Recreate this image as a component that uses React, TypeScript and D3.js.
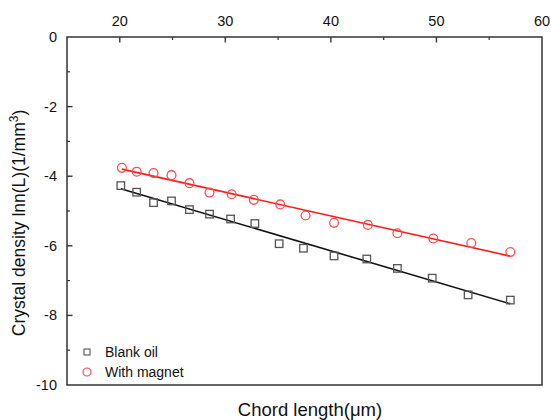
import React from "react";
import * as d3 from "d3";

const blankX = [20.1, 21.6, 23.2, 24.9, 26.6, 28.5, 30.5, 32.8, 35.1, 37.4, 40.3, 43.4, 46.3, 49.6, 53.0, 57.0];
const blankY = [-4.27, -4.46, -4.76, -4.71, -4.96, -5.09, -5.23, -5.36, -5.94, -6.07, -6.29, -6.38, -6.65, -6.93, -7.41, -7.56];
const magnetX = [20.2, 21.6, 23.2, 24.9, 26.6, 28.5, 30.6, 32.7, 35.2, 37.6, 40.3, 43.5, 46.3, 49.7, 53.3, 57.0];
const magnetY = [-3.76, -3.87, -3.91, -3.97, -4.2, -4.47, -4.52, -4.68, -4.81, -5.13, -5.34, -5.4, -5.64, -5.79, -5.92, -6.18];

const xMajor = [20, 30, 40, 50, 60];
const xMinor = [25, 35, 45, 55];
const yMajor = [0, -2, -4, -6, -8, -10];
const yMinor = [-1, -3, -5, -7, -9];

const seriesNames = ["Blank oil", "With magnet"];
const xTitle = "Chord length(μm)";

const W = 551, H = 420;
const left = 67, right = 542, top = 37, bottom = 385;
const FONT = "Liberation Sans, Arial, sans-serif";

function fit(xs: number[], ys: number[]) {
  const mx = d3.mean(xs)!, my = d3.mean(ys)!;
  let sxy = 0, sxx = 0;
  xs.forEach((x, i) => { sxy += (x - mx) * (ys[i] - my); sxx += (x - mx) * (x - mx); });
  const b = sxy / sxx;
  const a = my - b * mx;
  const x0 = d3.min(xs)!, x1 = d3.max(xs)!;
  return [[x0, a + b * x0], [x1, a + b * x1]] as [number, number][];
}

export default function App() {
  const x = d3.scaleLinear().domain([15, 60]).range([left, right]);
  const y = d3.scaleLinear().domain([0, -10]).range([top, bottom]);
  const line = d3.line<[number, number]>().x(d => x(d[0])).y(d => y(d[1]));
  const blankFit = fit(blankX, blankY);
  const magFit = fit(magnetX, magnetY);
  const sq = 7.5;
  return (
    <svg width={W} height={H} style={{ position: "absolute", left: 0, top: 0, background: "#fff" }} fontFamily={FONT}>
      <rect x={0} y={0} width={W} height={H} fill="#fff" />
      {/* fit lines */}
      <path d={line(blankFit)!} stroke="#111" strokeWidth={1.6} fill="none" />
      <path d={line(magFit)!} stroke="#ff1a1a" strokeWidth={1.6} fill="none" />
      {/* markers */}
      {blankX.map((v, i) => (
        <rect key={"b" + i} x={x(v) - sq / 2} y={y(blankY[i]) - sq / 2} width={sq} height={sq} fill="none" stroke="#555" strokeWidth={1.3} />
      ))}
      {magnetX.map((v, i) => (
        <circle key={"m" + i} cx={x(v)} cy={y(magnetY[i])} r={4.4} fill="none" stroke="#ff4d4d" strokeWidth={1.3} />
      ))}
      {/* frame */}
      <rect x={left} y={top} width={right - left} height={bottom - top} fill="none" stroke="#333" strokeWidth={1.5} />
      {/* top ticks */}
      {xMajor.filter(v => v < 60).map(v => (
        <line key={"xt" + v} x1={x(v)} x2={x(v)} y1={top} y2={top + 5.5} stroke="#333" strokeWidth={1.4} />
      ))}
      {xMinor.map(v => (
        <line key={"xm" + v} x1={x(v)} x2={x(v)} y1={top} y2={top + 3} stroke="#333" strokeWidth={1.2} />
      ))}
      {xMajor.map(v => (
        <text key={"xl" + v} x={x(v)} y={top - 11} textAnchor="middle" fontSize={14.5} fill="#111">{v}</text>
      ))}
      {/* left ticks */}
      {yMajor.filter(v => v > -10 && v < 0).map(v => (
        <line key={"yt" + v} x1={left} x2={left + 5.5} y1={y(v)} y2={y(v)} stroke="#333" strokeWidth={1.4} />
      ))}
      {yMinor.map(v => (
        <line key={"ym" + v} x1={left} x2={left + 3} y1={y(v)} y2={y(v)} stroke="#333" strokeWidth={1.2} />
      ))}
      {yMajor.map(v => (
        <text key={"yl" + v} x={left - 10} y={y(v) + 5} textAnchor="end" fontSize={14.5} fill="#111">{v}</text>
      ))}
      {/* axis titles */}
      <text x={310} y={416} textAnchor="middle" fontSize={18.5} fill="#111">{xTitle}</text>
      <text transform={`translate(25, 223) rotate(-90)`} textAnchor="middle" fontSize={17.5} fill="#111">
        Crystal density lnn(L)(1/mm<tspan dy={-7} fontSize={12}>3</tspan><tspan dy={7}>)</tspan>
      </text>
      {/* legend */}
      <rect x={87 - 3} y={352 - 3} width={6} height={6} fill="none" stroke="#555" strokeWidth={1.1} />
      <text x={105} y={357} fontSize={14} fill="#111">{seriesNames[0]}</text>
      <circle cx={87} cy={372} r={4} fill="none" stroke="#ff4d4d" strokeWidth={1.2} />
      <text x={105} y={377} fontSize={14} fill="#111">{seriesNames[1]}</text>
    </svg>
  );
}
